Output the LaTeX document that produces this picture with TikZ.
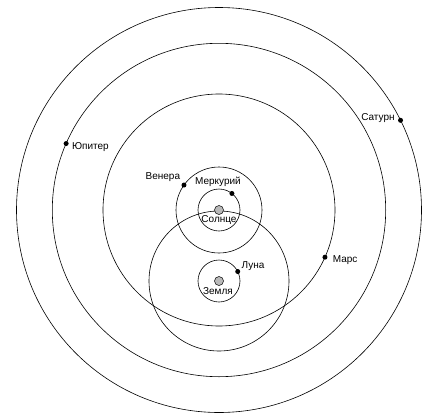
\documentclass[tikz,border=0pt]{standalone}
\usepackage{fontspec}
\setmainfont{Liberation Sans}
\usepackage{tikz}
\usetikzlibrary{calc}
\usetikzlibrary{positioning}

\begin{document}
\begin{tikzpicture}[
    x=1pt, y=1pt,
    orbit/.style={draw, line width=0.6pt},
    planet/.style={circle, fill=black, inner sep=0pt, minimum size=5pt},
    body/.style={circle, draw, fill=gray!55, line width=0.5pt, inner sep=0pt, minimum size=9pt},
    lbl/.style={inner sep=1pt, font=\fontsize{10}{11}\selectfont}
]
    \useasboundingbox (-219,-206) rectangle (209,210);

    % Centres of the orbits
    \coordinate (sunc) at (0,0);
    \coordinate (earthc) at (0,-71);

    % Orbits round the Sun
    \draw [orbit] (sunc) circle (21);
    \draw [orbit] (sunc) circle (43);
    \draw [orbit] (sunc) circle (116);
    \draw [orbit] (sunc) circle (166.7);
    \draw [orbit] (sunc) circle (202.5);

    % Orbits round the Earth (Moon and Sun)
    \draw [orbit] (earthc) circle (21);
    \draw [orbit] (earthc) circle (70);

    % Sun and Earth
    \node (sun) [body] at (sunc) {};
    \node (earth) [body] at (earthc) {};

    % Planets
    \node (merc) [planet] at ([shift={(52:21)}]sunc) {};
    \node (ven)  [planet] at ([shift={(144.5:43)}]sunc) {};
    \node (mars) [planet] at ([shift={(-24:116)}]sunc) {};
    \node (jup)  [planet] at ([shift={(156.5:166.7)}]sunc) {};
    \node (sat)  [planet] at ([shift={(26.3:202.5)}]sunc) {};
    \node (moon) [planet] at ([shift={(26.8:21)}]earthc) {};

    % Labels
    \node [lbl] at ($(sun.center)+(0,-10)$) {Солнце};
    \node [lbl] at ($(earth.center)+(-1,-10)$) {Земля};
    \node [lbl] at ($(merc)+(-14,12)$) {Меркурий};
    \node [lbl, left=0pt of ven, yshift=8pt] {Венера};
    \node [lbl, right=0pt of moon, yshift=5pt] {Луна};
    \node [lbl, right=4pt of mars, yshift=-3pt] {Марс};
    \node [lbl, right=2pt of jup, yshift=-4pt] {Юпитер};
    \node [lbl, left=2pt of sat, yshift=2pt] {Сатурн};

\end{tikzpicture}
\end{document}
